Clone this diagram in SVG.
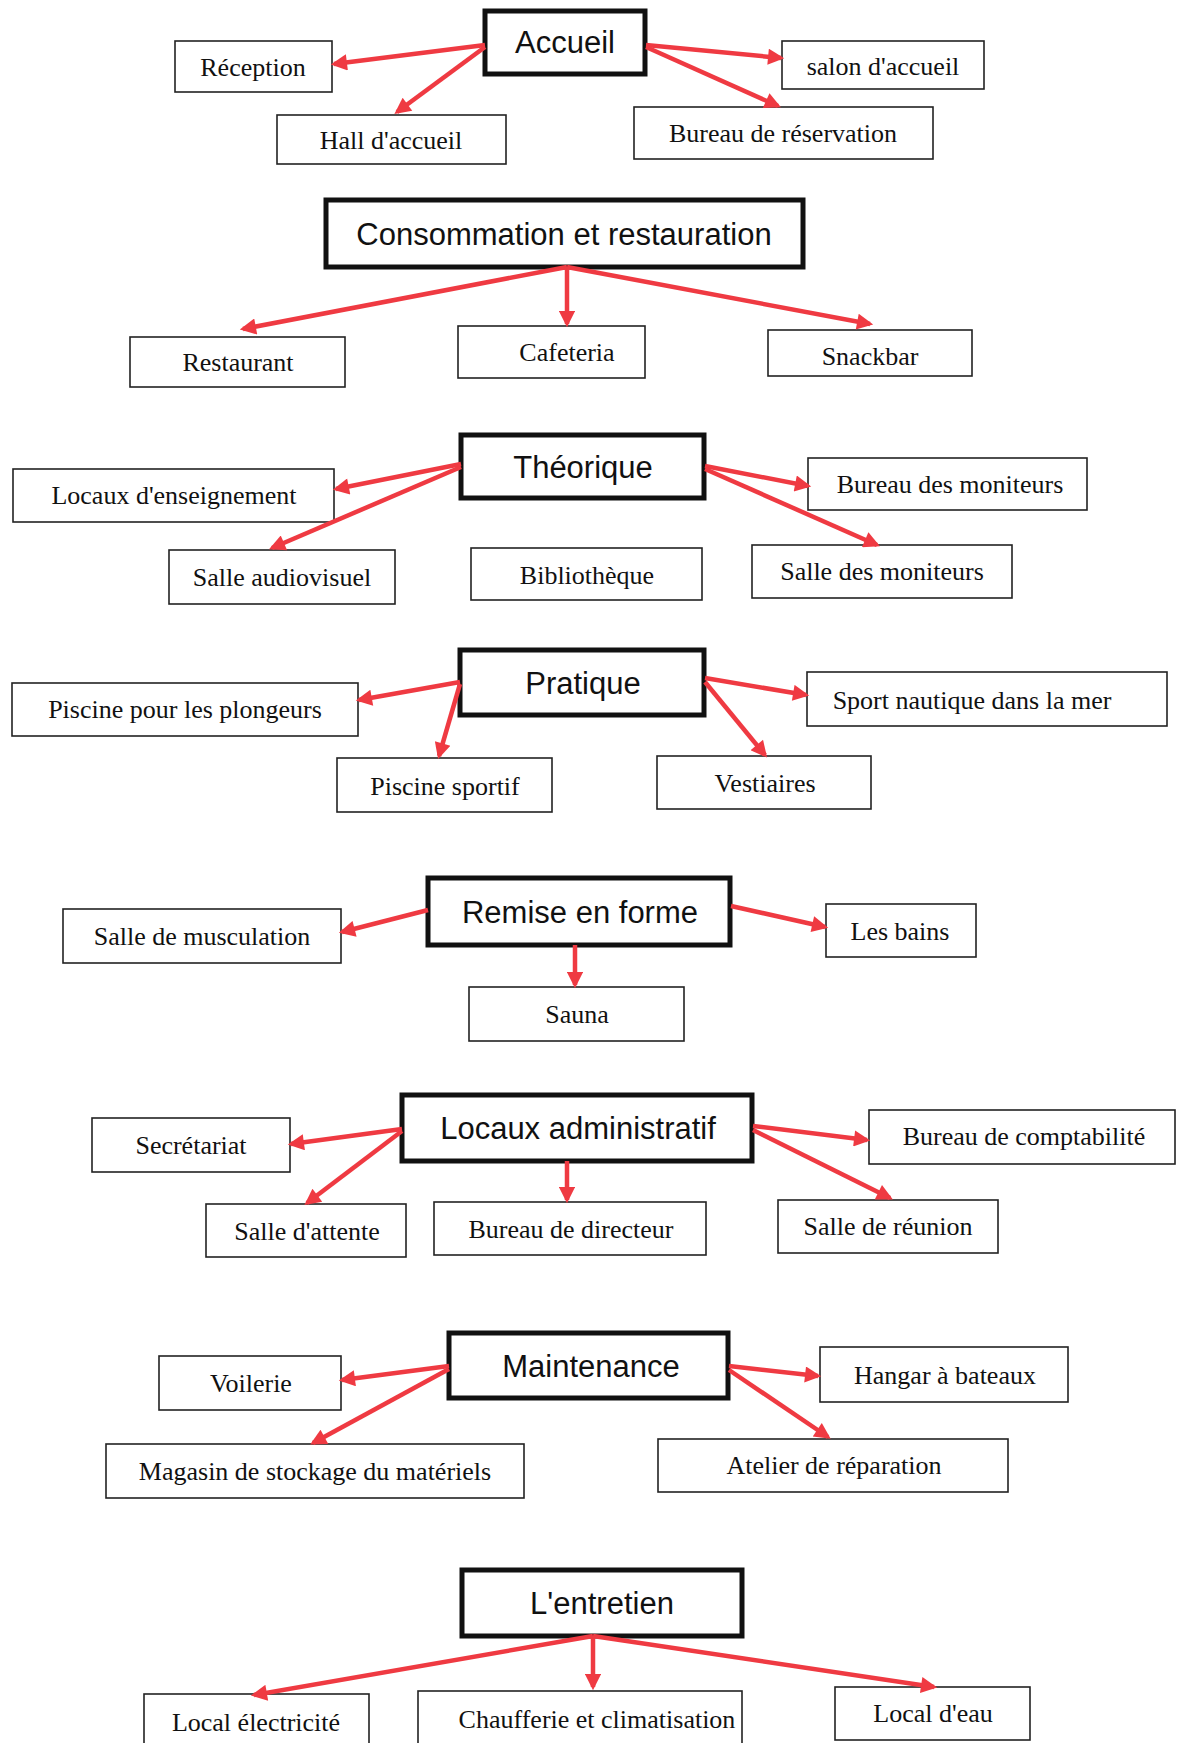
<svg xmlns="http://www.w3.org/2000/svg" width="1183" height="1743" viewBox="0 0 1183 1743">
<style>
.bg{fill:#ffffff}
.box rect{fill:#ffffff;stroke:#222;stroke-width:1.6}
.head rect{fill:#ffffff;stroke:#111;stroke-width:5}
.box text{font-family:"Liberation Serif","Times New Roman",serif;font-size:26px;fill:#111;text-anchor:middle}
.head text{font-family:"Liberation Sans",Arial,sans-serif;font-size:31px;fill:#111;text-anchor:middle}
#connectors line{stroke:#ef3a42;stroke-width:4.5;marker-end:url(#ah)}
</style>
<defs>
<marker id="ah" viewBox="0 0 10 10" refX="8" refY="5" markerWidth="4.2" markerHeight="3.6" orient="auto" markerUnits="strokeWidth">
<path d="M0,0 L10,5 L0,10 z" fill="#ef3a42"/>
</marker>
</defs>
<rect class="bg" x="0" y="0" width="1183" height="1743"/>

<!-- Section 1 -->
<g id="accueil" class="head"><rect x="485" y="11" width="160" height="63"/><text x="565" y="53">Accueil</text></g>
<g id="reception" class="box"><rect x="175" y="41" width="157" height="51"/><text x="253" y="76">Réception</text></g>
<g id="hall" class="box"><rect x="277" y="115" width="229" height="49"/><text x="391" y="149">Hall d'accueil</text></g>
<g id="salon" class="box"><rect x="782" y="41" width="202" height="48"/><text x="883" y="75">salon d'accueil</text></g>
<g id="bureau-reservation" class="box"><rect x="634" y="107" width="299" height="52"/><text x="783" y="142">Bureau de réservation</text></g>

<!-- Section 2 -->
<g id="consommation" class="head"><rect x="326" y="200" width="477" height="67"/><text x="564" y="245">Consommation et restauration</text></g>
<g id="restaurant" class="box"><rect x="130" y="337" width="215" height="50"/><text x="238" y="371">Restaurant</text></g>
<g id="cafeteria" class="box"><rect x="458" y="326" width="187" height="52"/><text x="567" y="361">Cafeteria</text></g>
<g id="snackbar" class="box"><rect x="768" y="330" width="204" height="46"/><text x="870" y="365">Snackbar</text></g>

<!-- Section 3 -->
<g id="theorique" class="head"><rect x="461" y="435" width="243" height="63"/><text x="583" y="478">Théorique</text></g>
<g id="locaux-enseignement" class="box"><rect x="13" y="469" width="321" height="53"/><text x="174" y="504">Locaux d'enseignement</text></g>
<g id="salle-audiovisuel" class="box"><rect x="169" y="550" width="226" height="54"/><text x="282" y="586">Salle audiovisuel</text></g>
<g id="bibliotheque" class="box"><rect x="471" y="548" width="231" height="52"/><text x="587" y="584">Bibliothèque</text></g>
<g id="bureau-moniteurs" class="box"><rect x="808" y="458" width="279" height="52"/><text x="950" y="493">Bureau des moniteurs</text></g>
<g id="salle-moniteurs" class="box"><rect x="752" y="545" width="260" height="53"/><text x="882" y="580">Salle des moniteurs</text></g>

<!-- Section 4 -->
<g id="pratique" class="head"><rect x="460" y="650" width="244" height="65"/><text x="583" y="694">Pratique</text></g>
<g id="piscine-plongeurs" class="box"><rect x="12" y="683" width="346" height="53"/><text x="185" y="718">Piscine pour les plongeurs</text></g>
<g id="piscine-sportif" class="box"><rect x="337" y="758" width="215" height="54"/><text x="445" y="795">Piscine sportif</text></g>
<g id="sport-nautique" class="box"><rect x="807" y="672" width="360" height="54"/><text x="972" y="709">Sport nautique dans la mer</text></g>
<g id="vestiaires" class="box"><rect x="657" y="756" width="214" height="53"/><text x="765" y="792">Vestiaires</text></g>

<!-- Section 5 -->
<g id="remise" class="head"><rect x="428" y="878" width="302" height="67"/><text x="580" y="923">Remise en forme</text></g>
<g id="musculation" class="box"><rect x="63" y="909" width="278" height="54"/><text x="202" y="945">Salle de musculation</text></g>
<g id="bains" class="box"><rect x="826" y="904" width="150" height="53"/><text x="900" y="940">Les bains</text></g>
<g id="sauna" class="box"><rect x="469" y="987" width="215" height="54"/><text x="577" y="1023">Sauna</text></g>

<!-- Section 6 -->
<g id="locaux-admin" class="head"><rect x="402" y="1095" width="350" height="66"/><text x="578" y="1139">Locaux administratif</text></g>
<g id="secretariat" class="box"><rect x="92" y="1118" width="198" height="54"/><text x="191" y="1154">Secrétariat</text></g>
<g id="salle-attente" class="box"><rect x="206" y="1204" width="200" height="53"/><text x="307" y="1240">Salle d'attente</text></g>
<g id="bureau-directeur" class="box"><rect x="434" y="1202" width="272" height="53"/><text x="571" y="1238">Bureau de directeur</text></g>
<g id="bureau-comptabilite" class="box"><rect x="869" y="1110" width="306" height="54"/><text x="1024" y="1145">Bureau de comptabilité</text></g>
<g id="salle-reunion" class="box"><rect x="778" y="1200" width="220" height="53"/><text x="888" y="1235">Salle de réunion</text></g>

<!-- Section 7 -->
<g id="maintenance" class="head"><rect x="449" y="1333" width="279" height="65"/><text x="591" y="1377">Maintenance</text></g>
<g id="voilerie" class="box"><rect x="159" y="1356" width="182" height="54"/><text x="251" y="1392">Voilerie</text></g>
<g id="magasin" class="box"><rect x="106" y="1444" width="418" height="54"/><text x="315" y="1480">Magasin de stockage du matériels</text></g>
<g id="hangar" class="box"><rect x="820" y="1347" width="248" height="55"/><text x="945" y="1384">Hangar à bateaux</text></g>
<g id="atelier" class="box"><rect x="658" y="1439" width="350" height="53"/><text x="834" y="1474">Atelier de réparation</text></g>

<!-- Section 8 -->
<g id="entretien" class="head"><rect x="462" y="1570" width="280" height="66"/><text x="602" y="1614">L'entretien</text></g>
<g id="local-electricite" class="box"><rect x="144" y="1694" width="225" height="60"/><text x="256" y="1731">Local électricité</text></g>
<g id="chaufferie" class="box"><rect x="418" y="1691" width="324" height="60"/><text x="597" y="1728">Chaufferie et climatisation</text></g>
<g id="local-eau" class="box"><rect x="835" y="1687" width="195" height="53"/><text x="933" y="1722">Local d'eau</text></g>

<g id="connectors">
<line x1="485" y1="45" x2="334" y2="64"/>
<line x1="485" y1="47" x2="397" y2="112"/>
<line x1="646" y1="45" x2="781" y2="58"/>
<line x1="646" y1="47" x2="778" y2="106"/>

<line x1="567" y1="267" x2="243" y2="329"/>
<line x1="567" y1="267" x2="567" y2="324"/>
<line x1="567" y1="267" x2="870" y2="324"/>

<line x1="461" y1="464" x2="336" y2="489"/>
<line x1="461" y1="467" x2="272" y2="548"/>
<line x1="705" y1="466" x2="808" y2="486"/>
<line x1="705" y1="469" x2="877" y2="545"/>

<line x1="460" y1="682" x2="359" y2="700"/>
<line x1="460" y1="684" x2="439" y2="756"/>
<line x1="705" y1="678" x2="806" y2="695"/>
<line x1="705" y1="682" x2="765" y2="755"/>

<line x1="428" y1="910" x2="342" y2="932"/>
<line x1="731" y1="906" x2="825" y2="927"/>
<line x1="575" y1="945" x2="575" y2="985"/>

<line x1="402" y1="1129" x2="291" y2="1144"/>
<line x1="402" y1="1131" x2="307" y2="1203"/>
<line x1="567" y1="1161" x2="567" y2="1200"/>
<line x1="753" y1="1126" x2="867" y2="1140"/>
<line x1="753" y1="1130" x2="890" y2="1198"/>

<line x1="449" y1="1366" x2="342" y2="1380"/>
<line x1="449" y1="1369" x2="313" y2="1443"/>
<line x1="729" y1="1366" x2="818" y2="1376"/>
<line x1="729" y1="1370" x2="828" y2="1437"/>

<line x1="593" y1="1636" x2="254" y2="1695"/>
<line x1="593" y1="1636" x2="593" y2="1687"/>
<line x1="593" y1="1636" x2="934" y2="1687"/>
</g>
</svg>
